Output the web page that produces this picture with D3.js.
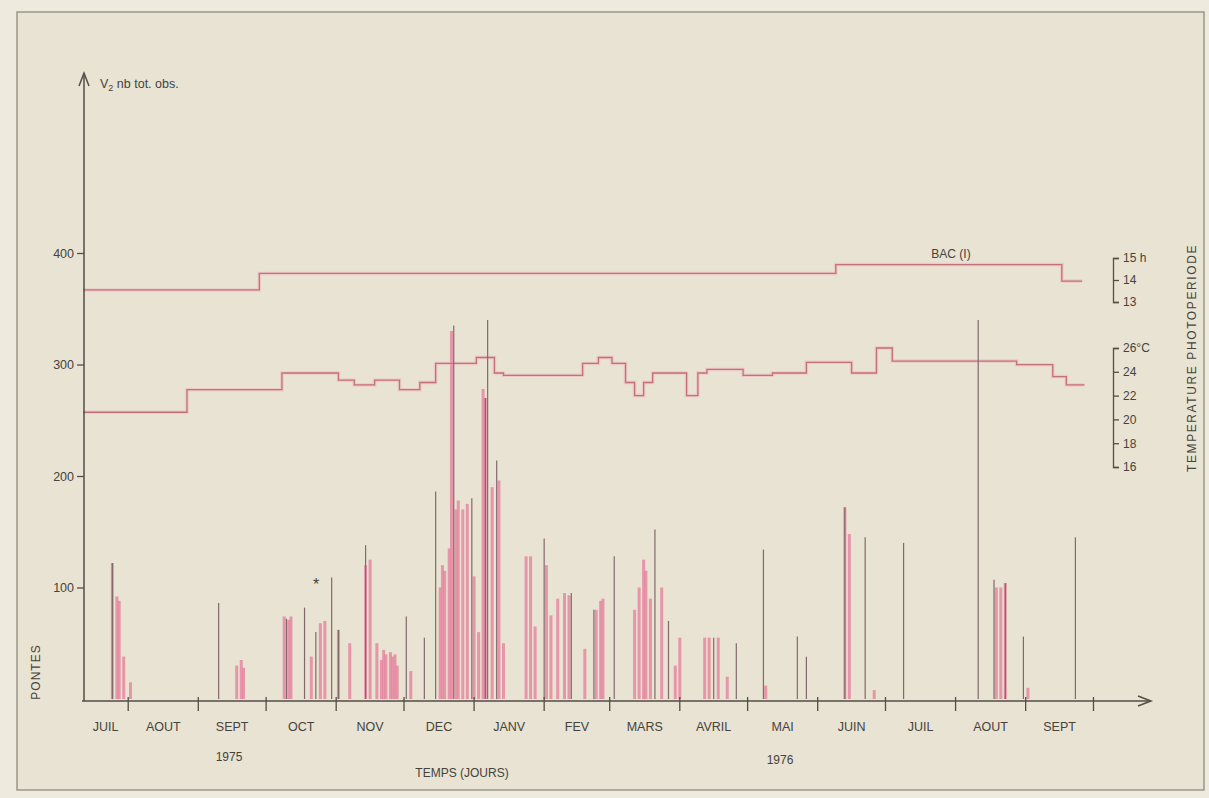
<!DOCTYPE html>
<html>
<head>
<meta charset="utf-8">
<script src="https://cdn.jsdelivr.net/npm/d3@7"></script>
<style>
html, body { margin: 0; padding: 0; background: #eeeadd; }
svg { display: block; }
text { font-family: "Liberation Sans", Arial, sans-serif; fill: #46423c; }
</style>
</head>
<body>
<div id="chart"></div>
<script>
// month labels under the time axis (juil. 1975 -> sept. 1976)
const monthLabels = ["JUIL", "AOUT", "SEPT", "OCT", "NOV", "DEC", "JANV", "FEV", "MARS", "AVRIL", "MAI", "JUIN", "JUIL", "AOUT", "SEPT"]
const leftTicks = [100, 200, 300, 400]
const photoTicks = [13, 14, 15]
const tempTicks = [16, 18, 20, 22, 24, 26]

// daily egg layings (pink bars)
const pinkDates = [
    "1975-07-25", "1975-07-27", "1975-07-28", "1975-07-30", "1975-08-02",
    "1975-09-18", "1975-09-20", "1975-09-21",
    "1975-10-09", "1975-10-11", "1975-10-12", "1975-10-21", "1975-10-25", "1975-10-27",
    "1975-11-02", "1975-11-07", "1975-11-14", "1975-11-16", "1975-11-19", "1975-11-21", "1975-11-22",
    "1975-11-23", "1975-11-25", "1975-11-26", "1975-11-27", "1975-11-28",
    "1975-12-04", "1975-12-17", "1975-12-18", "1975-12-19", "1975-12-21", "1975-12-22", "1975-12-24",
    "1975-12-25", "1975-12-27", "1975-12-29",
    "1976-01-01", "1976-01-03", "1976-01-05", "1976-01-06", "1976-01-09", "1976-01-12", "1976-01-14",
    "1976-01-24", "1976-01-26", "1976-01-28",
    "1976-02-02", "1976-02-04", "1976-02-07", "1976-02-10", "1976-02-12", "1976-02-19", "1976-02-24",
    "1976-02-26", "1976-02-27",
    "1976-03-12", "1976-03-14", "1976-03-16", "1976-03-17", "1976-03-19", "1976-03-24", "1976-03-30",
    "1976-04-01", "1976-04-12", "1976-04-14", "1976-04-18", "1976-04-22",
    "1976-05-09", "1976-06-13", "1976-06-15", "1976-06-26",
    "1976-08-19", "1976-08-21", "1976-08-23", "1976-09-02"
]
const pinkCounts = [
    122, 92, 88, 38, 15,
    30, 35, 28,
    74, 71, 74, 38, 68, 70,
    62, 50, 120, 125, 50, 35, 44,
    40, 42, 38, 40, 30,
    25, 100, 120, 115, 135, 330, 170,
    178, 170, 175,
    110, 60, 278, 270, 190, 196, 50,
    128, 128, 65,
    120, 75, 90, 95, 93, 45, 80,
    88, 90,
    80, 100, 125, 115, 90, 100, 30,
    55, 55, 55, 55, 20,
    12, 172, 148, 8,
    100, 100, 104, 10
]

// darker, thin lines drawn over the histogram
const darkDates = [
    "1975-07-25", "1975-09-10", "1975-10-10", "1975-10-18", "1975-10-23", "1975-10-30", "1975-11-02",
    "1975-11-14", "1975-12-02", "1975-12-10", "1975-12-15", "1975-12-23", "1975-12-31",
    "1976-01-06", "1976-01-07", "1976-01-11", "1976-02-01", "1976-02-13", "1976-02-23", "1976-03-03",
    "1976-03-21", "1976-03-27", "1976-04-16", "1976-04-26", "1976-05-08", "1976-05-23", "1976-05-27",
    "1976-06-13", "1976-06-22", "1976-07-09", "1976-08-11", "1976-08-18", "1976-08-23", "1976-08-31",
    "1976-09-23"
]
const darkCounts = [
    122, 86, 72, 82, 60, 109, 62,
    138, 74, 55, 186, 335, 180,
    270, 340, 214, 144, 95, 80, 128,
    152, 70, 55, 50, 134, 56, 38,
    172, 145, 140, 340, 107, 104, 56,
    145
]

// photoperiod (hours), step changes
const photoDates = ["1975-07-12", "1975-09-28", "1976-06-09", "1976-09-17", "1976-09-26"]
const photoHours = [13.55, 14.3, 14.7, 13.95, 13.95]

// temperature (deg C), step changes
const tempDates = [
    "1975-07-12", "1975-08-27", "1975-10-08", "1975-11-02", "1975-11-09", "1975-11-18", "1975-11-29",
    "1975-12-08", "1975-12-15", "1976-01-02", "1976-01-10", "1976-01-14", "1976-02-18", "1976-02-25",
    "1976-03-02", "1976-03-08", "1976-03-12", "1976-03-16", "1976-03-20", "1976-04-04", "1976-04-09",
    "1976-04-13", "1976-04-29", "1976-05-12", "1976-05-27", "1976-06-16", "1976-06-27", "1976-07-04",
    "1976-08-28", "1976-09-13", "1976-09-19", "1976-09-27"
]
const tempValues = [
    20.6, 22.5, 23.9, 23.3, 22.9, 23.3, 22.5,
    23.1, 24.7, 25.2, 23.9, 23.7, 24.7, 25.2,
    24.7, 23.1, 22.0, 23.1, 23.9, 22.0, 23.9,
    24.2, 23.7, 23.9, 24.8, 23.9, 26.0, 24.9,
    24.6, 23.6, 22.9, 22.9
]

const width = 1209
const height = 798
const parse = d3.timeParse("%Y-%m-%d")

const x = d3.scaleTime().domain([parse("1975-07-12"), parse("1976-10-26")]).range([83, 1150])
const y = d3.scaleLinear().domain([0, 400]).range([699, 253])
const photoY = d3.scaleLinear().domain([13, 15]).range([302, 258])
const tempY = d3.scaleLinear().domain([16, 26]).range([467, 348])

const axisColor = "#524e48"

const svg = d3.select("#chart").append("svg")
    .attr("width", width)
    .attr("height", height)
    .attr("viewBox", `0 0 ${width} ${height}`)

svg.append("rect").attr("width", width).attr("height", height).attr("fill", "#eeeadd")
svg.append("rect")
    .attr("x", 17).attr("y", 12).attr("width", 1187).attr("height", 778)
    .attr("fill", "#e8e3d2")
    .attr("stroke", "#9c968a").attr("stroke-width", 1.5)

// bars
const pink = pinkDates.map((d, i) => ({ date: parse(d), v: pinkCounts[i] }))
const dark = darkDates.map((d, i) => ({ date: parse(d), v: darkCounts[i] }))

svg.append("g").selectAll("line")
    .data(pink)
    .join("line")
    .attr("x1", d => x(d.date)).attr("x2", d => x(d.date))
    .attr("y1", y(0)).attr("y2", d => y(d.v))
    .attr("stroke", "#e5829d")
    .attr("stroke-opacity", 0.8)
    .attr("stroke-width", 3)

// step lines (photoperiod & temperature)
const stepLine = (scale) => d3.line()
    .x(d => x(d.date))
    .y(d => scale(d.v))
    .curve(d3.curveStepAfter)

const photo = photoDates.map((d, i) => ({ date: parse(d), v: photoHours[i] }))
const temp = tempDates.map((d, i) => ({ date: parse(d), v: tempValues[i] }))

for (const [data, scale] of [[photo, photoY], [temp, tempY]]) {
    svg.append("path").datum(data)
        .attr("d", stepLine(scale))
        .attr("fill", "none")
        .attr("stroke", "#efb0bb").attr("stroke-width", 3.5).attr("stroke-opacity", 0.5)
    svg.append("path").datum(data)
        .attr("d", stepLine(scale))
        .attr("fill", "none")
        .attr("stroke", "#c46f7c").attr("stroke-width", 1.3)
}

svg.append("g").selectAll("line")
    .data(dark)
    .join("line")
    .attr("x1", d => x(d.date)).attr("x2", d => x(d.date))
    .attr("y1", y(0)).attr("y2", d => y(d.v))
    .attr("stroke", "#84696b")
    .attr("stroke-width", 1.2)

// x axis
svg.append("line")
    .attr("x1", 82).attr("x2", 1150).attr("y1", 701).attr("y2", 701)
    .attr("stroke", axisColor).attr("stroke-width", 1.5)
svg.append("path")
    .attr("d", "M1138,696 L1151,701 L1138,706")
    .attr("fill", "none").attr("stroke", axisColor).attr("stroke-width", 1.5)

const monthStarts = d3.timeMonth.range(parse("1975-08-01"), parse("1976-10-02"))
svg.append("g").selectAll("line")
    .data(monthStarts)
    .join("line")
    .attr("x1", d => x(d)).attr("x2", d => x(d))
    .attr("y1", 697).attr("y2", 711)
    .attr("stroke", axisColor).attr("stroke-width", 1.3)

const labelCenters = [x.domain()[0]].concat(monthStarts.slice(0, monthLabels.length - 1))
svg.append("g").selectAll("text")
    .data(monthLabels)
    .join("text")
    .attr("x", (d, i) => (x(labelCenters[i]) + x(monthStarts[i])) / 2)
    .attr("y", 731)
    .attr("text-anchor", "middle")
    .attr("font-size", 12.5)
    .text(d => d)

svg.append("text").attr("x", 229).attr("y", 761).attr("text-anchor", "middle").attr("font-size", 12).text("1975")
svg.append("text").attr("x", 780).attr("y", 764).attr("text-anchor", "middle").attr("font-size", 12).text("1976")
svg.append("text").attr("x", 462).attr("y", 777).attr("text-anchor", "middle").attr("font-size", 12).text("TEMPS (JOURS)")

// left axis
svg.append("line")
    .attr("x1", 84).attr("x2", 84).attr("y1", 701).attr("y2", 74)
    .attr("stroke", axisColor).attr("stroke-width", 1.5)
svg.append("path")
    .attr("d", "M79,86 L84,73 L89,86")
    .attr("fill", "none").attr("stroke", axisColor).attr("stroke-width", 1.5)

const leftAxis = svg.append("g")
    .attr("transform", "translate(84,0)")
    .call(d3.axisLeft(y).tickValues(leftTicks).tickSize(7).tickPadding(3))
leftAxis.select(".domain").remove()
leftAxis.selectAll("line").attr("stroke", axisColor).attr("stroke-width", 1.3)
leftAxis.selectAll("text").attr("font-size", 12.5).attr("font-family", null).attr("fill", null)

const yTitle = svg.append("text").attr("x", 100).attr("y", 88).attr("font-size", 12.5)
yTitle.append("tspan").text("V")
yTitle.append("tspan").attr("font-size", 9).attr("dy", 3).text("2")
yTitle.append("tspan").attr("dy", -3).text(" nb tot. obs.")

svg.append("text")
    .attr("transform", "translate(40,672) rotate(-90)")
    .attr("text-anchor", "middle")
    .attr("font-size", 12)
    .attr("letter-spacing", 1)
    .text("PONTES")

svg.append("text").attr("x", 951).attr("y", 258).attr("text-anchor", "middle").attr("font-size", 12).text("BAC (I)")
svg.append("text").attr("x", 316).attr("y", 590).attr("text-anchor", "middle").attr("font-size", 16).text("*")

// right brackets
const photoAxis = svg.append("g")
    .attr("transform", "translate(1113,0)")
    .call(d3.axisRight(photoY).tickValues(photoTicks).tickSize(6).tickSizeOuter(6).tickPadding(4)
        .tickFormat(d => d === 15 ? "15 h" : d))
const tempAxis = svg.append("g")
    .attr("transform", "translate(1113,0)")
    .call(d3.axisRight(tempY).tickValues(tempTicks).tickSize(6).tickSizeOuter(6).tickPadding(4)
        .tickFormat(d => d === 26 ? "26°C" : d))
for (const a of [photoAxis, tempAxis]) {
    a.selectAll("line, path").attr("stroke", axisColor).attr("stroke-width", 1.3)
    a.selectAll("text").attr("font-size", 12).attr("font-family", null).attr("fill", null)
}

svg.append("text")
    .attr("transform", "translate(1196,358) rotate(-90)")
    .attr("text-anchor", "middle")
    .attr("font-size", 12)
    .attr("letter-spacing", 1.6)
    .text("TEMPERATURE PHOTOPERIODE")
</script>
</body>
</html>
